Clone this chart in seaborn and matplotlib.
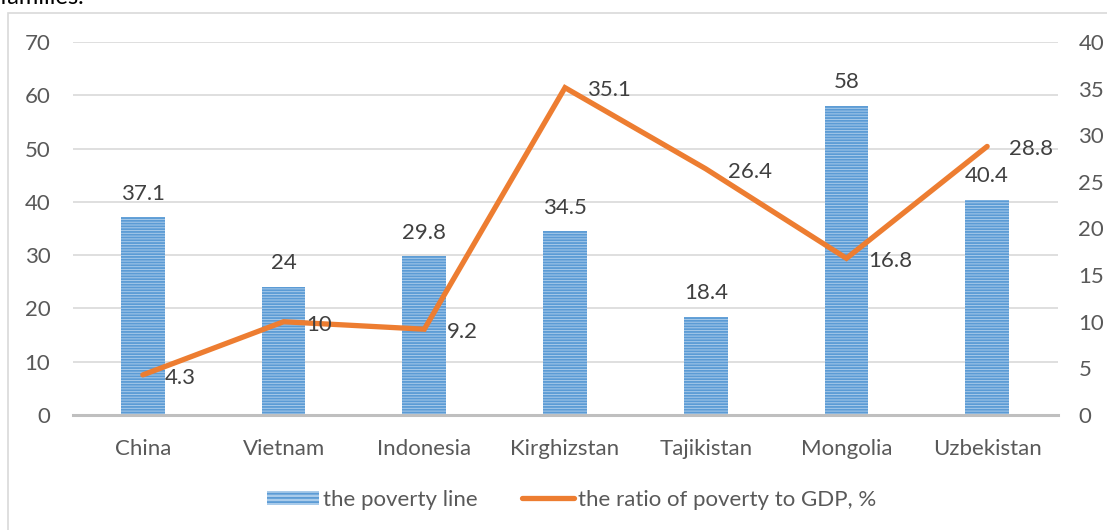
import numpy as np
import matplotlib
matplotlib.use("Agg")
import matplotlib.pyplot as plt
import seaborn as sns
from matplotlib.patches import Patch, Rectangle
from matplotlib.lines import Line2D

# datos
paises = ["China", "Vietnam", "Indonesia", "Kirghizstan", "Tajikistan", "Mongolia", "Uzbekistan"]
linea_pobreza = [37.1, 24, 29.8, 34.5, 18.4, 58, 40.4]
ratio_pib = [4.3, 10, 9.2, 35.1, 26.4, 16.8, 28.8]
etiquetas_pobreza = ["37.1", "24", "29.8", "34.5", "18.4", "58", "40.4"]
etiquetas_ratio = ["4.3", "10", "9.2", "35.1", "26.4", "16.8", "28.8"]

azul = "#5b9bd5"
azul_claro = "#a9cbea"
naranja = "#ed7d31"
gris_txt = "#595959"
fs = 16

sns.set_theme(style="white")
plt.rcParams["font.family"] = ["Lato", "DejaVu Sans"]
plt.rcParams["hatch.linewidth"] = 1.3

fig = plt.figure(figsize=(11.07, 5.30), dpi=100)
ax = fig.add_axes([0.0655, 0.217, 0.8898, 0.7038])

# marco del gráfico y texto cortado arriba
fig.patches.append(Rectangle((8 / 1107, -0.05), 1.2, 1 - 13 / 530 + 0.05,
                             transform=fig.transFigure, fill=False,
                             edgecolor="#d9d9d9", linewidth=1.2))
fig.text(0.0, 1.005, "families.", fontsize=17, color="black", va="center", ha="left")

# ── Barras ──────────────────────────────────────────────────────────
x = np.arange(len(paises))
sns.barplot(x=x, y=linea_pobreza, ax=ax, width=0.31, color=azul_claro,
            saturation=1, native_scale=True)
for p in ax.patches:
    p.set_facecolor(azul_claro)
    p.set_edgecolor(azul)
    p.set_linewidth(0)
    p.set_hatch("------")

for xi, v, t in zip(x, linea_pobreza, etiquetas_pobreza):
    ax.annotate(t, (xi, v), xytext=(0, 17), textcoords="offset points",
                ha="center", va="center", fontsize=fs, color="#404040")

ax.set_ylim(0, 70)
ax.set_yticks(range(0, 71, 10))
ax.set_xlim(-0.5, len(paises) - 0.5)
ax.set_xticks(x)
ax.set_xticklabels(paises)
ax.yaxis.grid(True, color="#d9d9d9", linewidth=1.2)
ax.set_axisbelow(True)
ax.tick_params(axis="y", length=0, pad=16, labelsize=fs, labelcolor=gris_txt)
ax.tick_params(axis="x", length=0, pad=17, labelsize=fs, labelcolor=gris_txt)
for s in ["top", "right", "left"]:
    ax.spines[s].set_visible(False)
ax.spines["bottom"].set_color("#bfbfbf")
ax.spines["bottom"].set_linewidth(2.2)
ax.set(xlabel="", ylabel="")

# ── Línea (eje derecho) ─────────────────────────────────────────────
ax2 = ax.twinx()
sns.lineplot(x=x, y=ratio_pib, ax=ax2, color=naranja, linewidth=3.8,
             solid_capstyle="round", solid_joinstyle="miter")
for xi, v, t in zip(x, ratio_pib, etiquetas_ratio):
    ax2.annotate(t, (xi, v), xytext=(16, -2), textcoords="offset points",
                 ha="left", va="center", fontsize=fs, color="#404040")
ax2.set_ylim(0, 40)
ax2.set_yticks(range(0, 41, 5))
ax2.tick_params(axis="y", length=0, pad=15, labelsize=fs, labelcolor=gris_txt)
for s in ax2.spines.values():
    s.set_visible(False)
ax2.set(xlabel="", ylabel="")

# ── Leyenda ─────────────────────────────────────────────────────────
h_barra = Patch(facecolor=azul_claro, edgecolor=azul, linewidth=0, hatch="----")
h_linea = Line2D([], [], color=naranja, linewidth=3.8, solid_capstyle="round")
fig.legend([h_barra, h_linea], ["the poverty line", "the ratio of poverty to GDP, %"],
           loc="center", bbox_to_anchor=(0.516, 0.057), ncol=2, frameon=False,
           fontsize=fs, labelcolor=gris_txt, handlelength=2.34, handleheight=0.63,
           handletextpad=0.18, columnspacing=2.0)

fig.savefig("out.png", dpi=100)
